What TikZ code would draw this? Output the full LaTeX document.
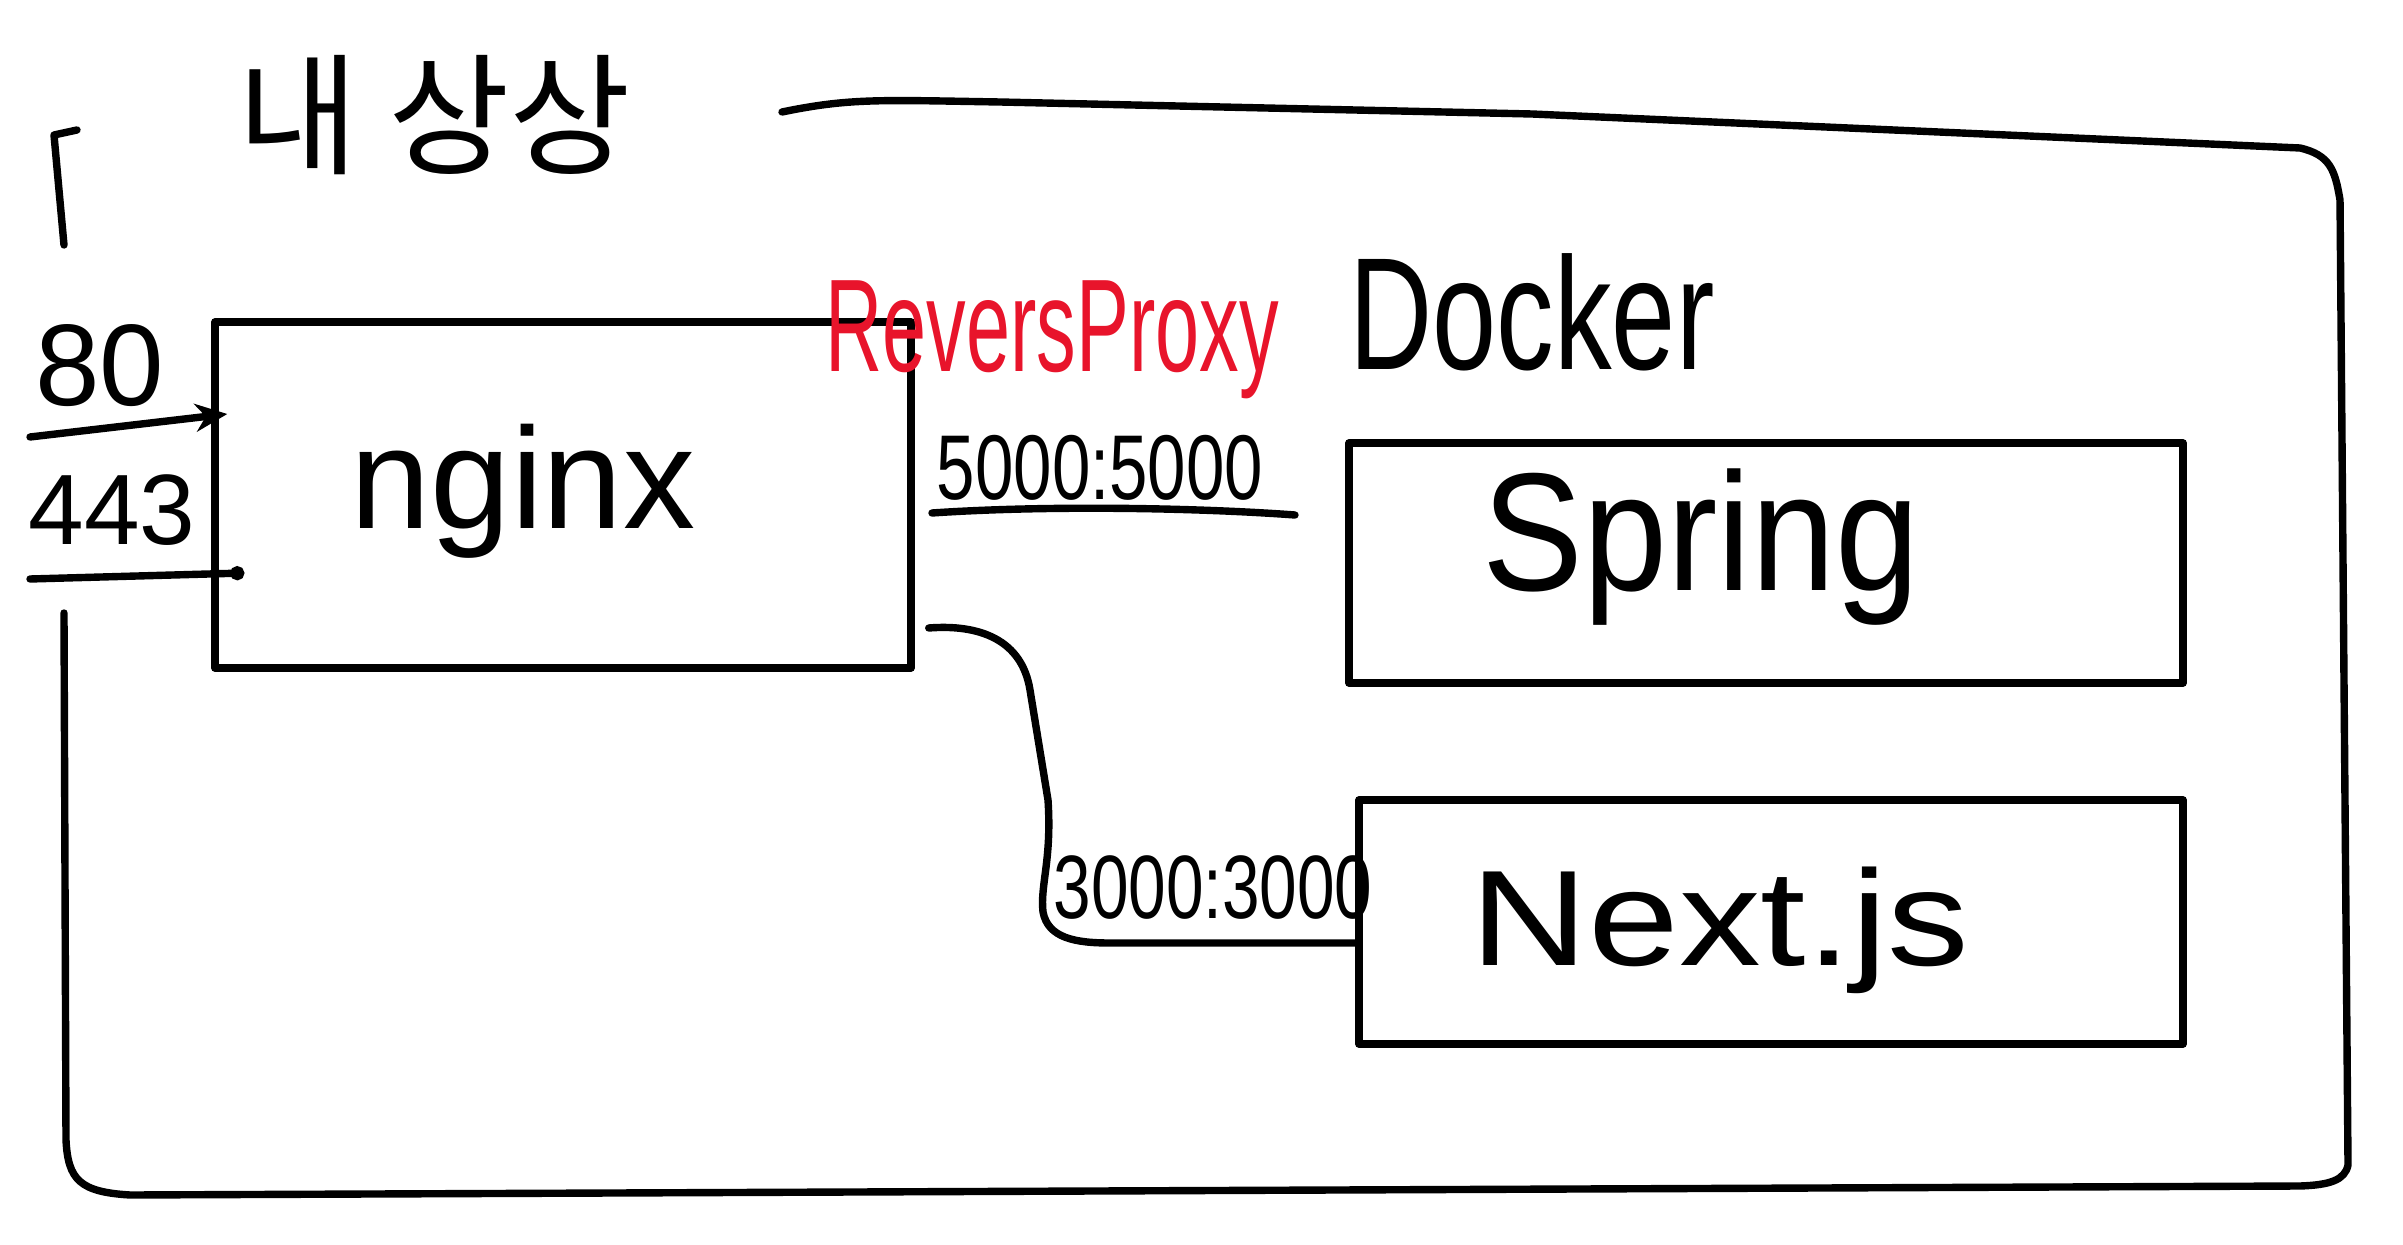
\documentclass[tikz,border=0pt]{standalone}
\usepackage{fontspec}
\setmainfont{Liberation Sans}
\newfontfamily\krfont{Noto Sans CJK KR}
\usetikzlibrary{arrows.meta,calc}
\definecolor{penred}{HTML}{E8142B}
\begin{document}
\begin{tikzpicture}[x=0.5pt,y=-0.5pt,
  pen/.style={line width=3.7pt, line cap=round, line join=round},
  boxnode/.style={pen, draw, rectangle, inner sep=0pt},
  hw/.style={inner sep=0pt, anchor=base}]
\useasboundingbox (0,0) rectangle (2403,1245);

% outer server frame
\draw[pen] (782,112) .. controls (850,98) and (880,100) .. (1000,102)
  -- (1532,114) -- (2300,148) .. controls (2330,155) and (2335,170) .. (2340,200)
  -- (2348,1165) .. controls (2345,1180) and (2330,1185) .. (2300,1186)
  -- (130,1195) .. controls (80,1192) and (68,1180) .. (66,1140)
  -- (64,613);
\draw[pen] (77,130) -- (54,135) -- (64,245);
\node[hw, font=\krfont\fontsize{66}{66}\selectfont] (title) at (434,165) {내 상상};

% boxes
\node[boxnode, minimum width=348pt, minimum height=173pt] (nginx) at (563,495) {};
\node[boxnode, minimum width=417pt, minimum height=120pt] (spring) at (1766,563) {};
\node[boxnode, minimum width=412pt, minimum height=122pt] (nextjs) at (1771,922) {};

% labels
\node[hw, font=\fontsize{72}{72}\selectfont] (nginxlabel) at (523,529) {nginx};
\node[hw, xscale=0.9, font=\fontsize{84}{84}\selectfont] (springlabel) at (1701,590) {Spring};
\node[hw, xscale=1.2, font=\fontsize{68}{68}\selectfont] (nextlabel) at (1720,965) {Next.js};
\node[hw, xscale=0.72, font=\fontsize{80}{80}\selectfont] (docker) at (1532,370) {Docker};
\node[hw, xscale=0.6, text=penred, font=\fontsize{66}{66}\selectfont] (proxy) at (1052,372) {ReversProxy};
\node[hw, xscale=0.75, font=\fontsize{46}{46}\selectfont] (p5000) at (1100,500) {5000:5000};
\node[hw, xscale=0.75, font=\fontsize{45}{45}\selectfont] (p3000) at (1213,918) {3000:3000};
\node[hw, font=\fontsize{58}{58}\selectfont] (p80) at (100,406) {80};
\node[hw, font=\fontsize{50}{50}\selectfont] (p443) at (112,545) {443};

% incoming ports
\coordinate (src80) at (30,437);
\coordinate (src443) at (30,579);
\draw[pen, -{Stealth[length=16pt,width=14pt]}] (src80) -- ($(nginx.west |- 0,414)+(16,0)$);
\draw[pen, -{Circle[length=7pt]}] (src443) -- ($(nginx.west |- 0,573)+(33,0)$);

% 5000 link
\coordinate (l5a) at (932,513);
\coordinate (l5b) at (1295,515);
\draw[pen] (l5a) .. controls (1050,505) and (1200,508) .. (l5b);

% 3000 link
\draw[pen] ($(nginx.east |- 0,628)+(14,0)$) .. controls (980,624) and (1022,640) .. (1030,690)
  -- (1048,800) .. controls (1052,860) and (1040,885) .. (1043,912)
  .. controls (1048,938) and (1075,943) .. (1110,943)
  -- (nextjs.west |- 0,943);
\end{tikzpicture}
\end{document}
